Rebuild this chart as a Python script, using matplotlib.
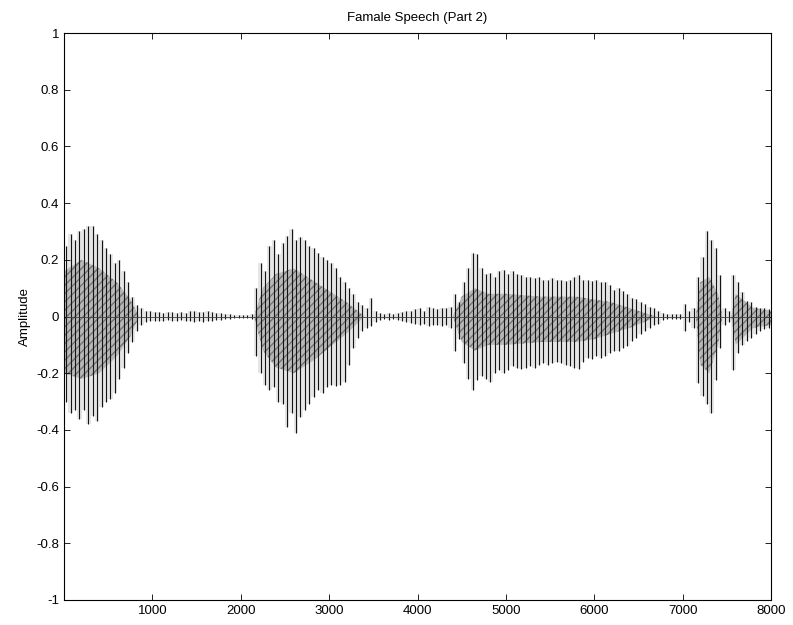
import numpy as np
import matplotlib
matplotlib.use("Agg")
import matplotlib.pyplot as plt
import matplotlib.ticker as mticker

plt.rcParams["axes.unicode_minus"] = False
plt.rcParams["font.family"] = ["Liberation Sans", "DejaVu Sans"]

block_len = 50
top_seg1 = [0.25, 0.29, 0.27, 0.30, 0.31, 0.32, 0.32, 0.29, 0.27, 0.24, 0.22, 0.19, 0.20, 0.16, 0.12, 0.07, 0.04, 0.03]
bot_seg1 = [-0.30, -0.34, -0.33, -0.36, -0.33, -0.38, -0.35, -0.37, -0.32, -0.30, -0.29, -0.27, -0.22, -0.18, -0.13, -0.09, -0.05, -0.03]
top_gap1 = [0.02, 0.018, 0.015, 0.016, 0.014, 0.017, 0.015, 0.013, 0.016, 0.014, 0.018, 0.02, 0.017, 0.016, 0.019, 0.015,
            0.014, 0.012, 0.01, 0.008, 0.006, 0.005, 0.005, 0.006, 0.008]
bot_gap1 = [-0.02, -0.017, -0.016, -0.015, -0.016, -0.014, -0.017, -0.015, -0.014, -0.016, -0.017, -0.019, -0.016, -0.018,
            -0.017, -0.015, -0.013, -0.012, -0.01, -0.008, -0.006, -0.005, -0.005, -0.006, -0.008]
top_seg2 = [0.10, 0.19, 0.16, 0.25, 0.27, 0.22, 0.26, 0.285, 0.31, 0.27, 0.28, 0.27, 0.25, 0.24, 0.225, 0.21, 0.20, 0.19,
            0.17, 0.14, 0.12, 0.10, 0.08, 0.05, 0.04, 0.03, 0.065, 0.02]
bot_seg2 = [-0.14, -0.20, -0.24, -0.26, -0.25, -0.30, -0.31, -0.39, -0.34, -0.41, -0.355, -0.33, -0.31, -0.285, -0.26, -0.27,
            -0.25, -0.24, -0.245, -0.24, -0.23, -0.17, -0.11, -0.075, -0.05, -0.04, -0.035, -0.02]
top_gap2 = [0.012, 0.01, 0.012, 0.01, 0.012, 0.015, 0.018, 0.02, 0.025, 0.03, 0.02, 0.035, 0.03, 0.025, 0.03, 0.03, 0.035]
bot_gap2 = [-0.012, -0.01, -0.012, -0.01, -0.012, -0.015, -0.02, -0.022, -0.025, -0.03, -0.025, -0.035, -0.03, -0.03, -0.035,
            -0.03, -0.04]
top_seg3 = [0.08, 0.05, 0.12, 0.17, 0.225, 0.22, 0.17, 0.15, 0.155, 0.14, 0.16, 0.165, 0.15, 0.16, 0.15, 0.145, 0.14, 0.14,
            0.135, 0.14, 0.13, 0.13, 0.135, 0.13, 0.13, 0.125, 0.13, 0.14, 0.145, 0.13, 0.13, 0.125, 0.13, 0.12, 0.12, 0.11,
            0.095, 0.10, 0.09, 0.08, 0.065, 0.06, 0.05, 0.045, 0.035, 0.03, 0.02]
bot_seg3 = [-0.12, -0.08, -0.165, -0.22, -0.26, -0.225, -0.21, -0.22, -0.23, -0.20, -0.19, -0.20, -0.19, -0.175, -0.18, -0.185,
            -0.18, -0.175, -0.18, -0.17, -0.165, -0.17, -0.165, -0.16, -0.165, -0.17, -0.175, -0.18, -0.185, -0.16, -0.145,
            -0.15, -0.14, -0.145, -0.14, -0.13, -0.12, -0.12, -0.11, -0.105, -0.085, -0.075, -0.06, -0.05, -0.04, -0.03, -0.025]
top_seg4 = [0.012, 0.01, 0.008, 0.008, 0.01, 0.045, 0.02, 0.03, 0.14, 0.21, 0.30, 0.27, 0.24, 0.145, 0.03, 0.02, 0.145, 0.12,
            0.085, 0.055, 0.05, 0.035, 0.03, 0.03, 0.025]
bot_seg4 = [-0.012, -0.01, -0.008, -0.008, -0.01, -0.05, -0.02, -0.04, -0.235, -0.28, -0.31, -0.34, -0.225, -0.11, -0.03, -0.02,
            -0.19, -0.13, -0.10, -0.085, -0.075, -0.06, -0.05, -0.045, -0.04]

# Dense grey core of the voiced parts (sample, upper, lower)
core_pos = [0, 200, 400, 600, 750, 850, 2150, 2250, 2400, 2600, 2800, 3000, 3200, 3400, 4400, 4500, 4650, 4800, 5000,
            5400, 5800, 6000, 6200, 6400, 6600, 6700, 7150, 7200, 7300, 7400, 7450, 7550, 7600, 7800, 8000]
core_top = [0.16, 0.20, 0.17, 0.12, 0.06, 0.0, 0.0, 0.10, 0.15, 0.17, 0.13, 0.09, 0.05, 0.0, 0.0, 0.07, 0.10, 0.08, 0.08,
            0.07, 0.07, 0.06, 0.05, 0.03, 0.01, 0.0, 0.0, 0.12, 0.14, 0.08, 0.0, 0.0, 0.08, 0.03, 0.02]
core_bot = [-0.20, -0.22, -0.20, -0.14, -0.07, 0.0, 0.0, -0.12, -0.18, -0.20, -0.16, -0.11, -0.06, 0.0, 0.0, -0.09, -0.12,
            -0.10, -0.10, -0.09, -0.09, -0.08, -0.06, -0.04, -0.015, 0.0, 0.0, -0.17, -0.20, -0.10, 0.0, 0.0, -0.10, -0.04, -0.03]

top = np.array(top_seg1 + top_gap1 + top_seg2 + top_gap2 + top_seg3 + top_seg4)
bot = np.array(bot_seg1 + bot_gap1 + bot_seg2 + bot_gap2 + bot_seg3 + bot_seg4)
samples = np.arange(len(top)) * block_len + block_len / 2

xticks = [1000, 2000, 3000, 4000, 5000, 6000, 7000, 8000]
yticks = [-1, -0.8, -0.6, -0.4, -0.2, 0, 0.2, 0.4, 0.6, 0.8, 1]

fig = plt.figure(figsize=(7.93, 6.25), dpi=100)
ax = fig.add_axes([0.0807, 0.04, 0.8916, 0.9072])

ax.fill_between(samples, bot, top, step="mid", color="0.9", lw=0)
ax.fill_between(core_pos, core_bot, core_top, facecolor="0.72", edgecolor="0.45", hatch="////", lw=0)
ax.vlines(samples, bot, top, color="0.08", lw=0.8)
ax.plot(samples, np.zeros_like(samples), color="0.25", lw=0.6)

ax.set_xlim(0, 8000)
ax.set_ylim(-1, 1)
ax.set_xticks(xticks)
ax.set_yticks(yticks)
ax.yaxis.set_major_formatter(mticker.FormatStrFormatter("%g"))
ax.tick_params(direction="in", top=True, right=True, labelsize=9.5, length=4, width=0.6)
for s in ax.spines.values():
    s.set_linewidth(0.8)
ax.set_ylabel("Amplitude", fontsize=9.5, labelpad=4)
ax.set_title("Famale Speech (Part 2)", fontsize=9.5, pad=9)

fig.savefig("out.png", dpi=100)
